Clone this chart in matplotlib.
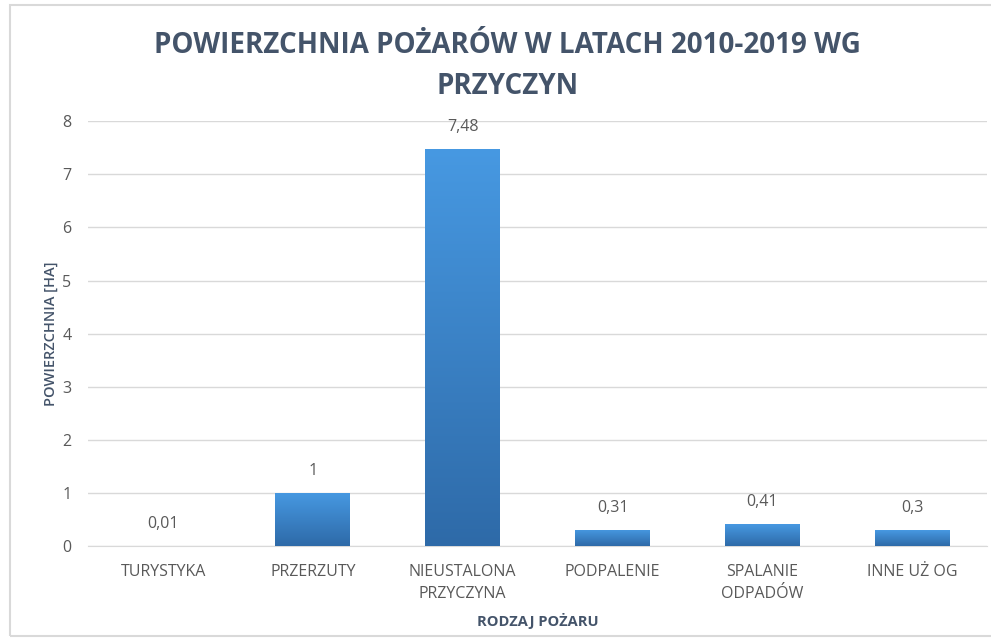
import numpy as np
import matplotlib
matplotlib.use("Agg")
import matplotlib.pyplot as plt
from matplotlib.patches import Rectangle
from matplotlib.colors import LinearSegmentedColormap

# Fire area per cause, 2010-2019
causes = ["TURYSTYKA", "PRZERZUTY", "NIEUSTALONA\nPRZYCZYNA",
          "PODPALENIE", "SPALANIE\nODPADÓW", "INNE UŻ OG"]
area_ha = [0.01, 1, 7.48, 0.31, 0.41, 0.3]
value_labels = ["0,01", "1", "7,48", "0,31", "0,41", "0,3"]

plt.rcParams['font.family'] = ['Open Sans', 'DejaVu Sans']

title_color = "#44546a"
tick_color = "#595959"

fig = plt.figure(figsize=(9.91, 6.38), dpi=100)
ax = fig.add_axes([0.089, 0.144, 0.907, 0.666])

x = np.arange(len(causes))
bars = ax.bar(x, area_ha, width=0.5, color="#3b86d0", zorder=2)

# vertical gradient on each bar: lighter at the top, darker at the base
grad = LinearSegmentedColormap.from_list("bar", ["#2e6aa8", "#4799e2"])
ramp = np.linspace(0, 1, 256).reshape(-1, 1)
for b in bars:
    x0, y0, w, h = b.get_x(), b.get_y(), b.get_width(), b.get_height()
    if h <= 0.02:
        b.set_alpha(0.3)
        continue
    im = ax.imshow(ramp, cmap=grad, origin="lower", aspect="auto",
                   extent=[x0, x0 + w, y0, y0 + h], zorder=3)
    im.set_clip_path(b)

for xi, v, lab in zip(x, area_ha, value_labels):
    ax.annotate(lab, (xi, v), xytext=(0, 10), textcoords="offset points",
                ha="center", va="bottom", fontsize=11.5, color=tick_color)

ax.set_xlim(-0.5, len(causes) - 0.5)
ax.set_ylim(0, 8)
ax.set_yticks(range(0, 9))
ax.set_xticks(x)
ax.set_xticklabels(causes, fontsize=11.5, color=tick_color, linespacing=1.45)
ax.tick_params(axis="y", labelsize=11.5, labelcolor=tick_color, length=0, pad=12)
ax.tick_params(axis="x", length=0, pad=13)
ax.yaxis.grid(True, color="#d9d9d9", linewidth=1, zorder=0)
ax.set_axisbelow(True)
for s in ax.spines.values():
    s.set_visible(False)
ax.spines["bottom"].set_visible(True)
ax.spines["bottom"].set_color("#d9d9d9")

ax.set_ylabel("POWIERZCHNIA [HA]", fontsize=10.5, color=title_color,
              fontweight="semibold", labelpad=3)
ax.set_xlabel("RODZAJ POŻARU", fontsize=10.5, color=title_color,
              fontweight="bold", labelpad=8)

fig.text(0.512, 0.897, "POWIERZCHNIA POŻARÓW W LATACH 2010-2019 WG\nPRZYCZYN",
         ha="center", va="center", fontsize=20, fontweight="bold",
         color=title_color, linespacing=1.55)

# light frame around the chart area
fig.patches.append(Rectangle((10 / 991, 2 / 638), 1.1, 631 / 638,
                             transform=fig.transFigure, fill=False,
                             edgecolor="#d9d9d9", linewidth=1.5))

fig.savefig("out.png", dpi=100)
